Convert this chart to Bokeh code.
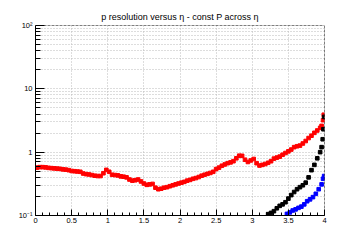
from bokeh.plotting import figure
from bokeh.models import Range1d, FixedTicker, Span
from bokeh.embed import file_html
from bokeh.resources import INLINE

# ---- data ----
red_x = [0.02, 0.06, 0.10, 0.14, 0.18, 0.22, 0.26, 0.30, 0.34, 0.38,
         0.42, 0.46, 0.50, 0.54, 0.58, 0.62, 0.66, 0.70, 0.74, 0.78,
         0.82, 0.86, 0.90, 0.94, 0.98, 1.02, 1.06, 1.10, 1.14, 1.18,
         1.22, 1.26, 1.30, 1.34, 1.38, 1.42, 1.46, 1.50, 1.54, 1.58,
         1.62, 1.66, 1.70, 1.74, 1.78, 1.82, 1.86, 1.90, 1.94, 1.98,
         2.02, 2.06, 2.10, 2.14, 2.18, 2.22, 2.26, 2.30, 2.34, 2.38,
         2.42, 2.46, 2.50, 2.54, 2.58, 2.62, 2.66, 2.70, 2.74, 2.78,
         2.82, 2.86, 2.90, 2.94, 2.98, 3.02, 3.06, 3.10, 3.14, 3.18,
         3.22, 3.26, 3.30, 3.34, 3.38, 3.42, 3.46, 3.50, 3.54, 3.58,
         3.62, 3.66, 3.70, 3.74, 3.78, 3.82, 3.86, 3.90, 3.94, 3.96,
         3.98, 3.99]
red_y = [0.57, 0.58, 0.58, 0.575, 0.565, 0.56, 0.555, 0.55, 0.545, 0.535,
         0.53, 0.52, 0.505, 0.50, 0.495, 0.49, 0.46, 0.45, 0.445, 0.435,
         0.425, 0.42, 0.42, 0.465, 0.525, 0.49, 0.44, 0.435, 0.43, 0.415,
         0.41, 0.40, 0.37, 0.355, 0.36, 0.37, 0.345, 0.32, 0.305, 0.31,
         0.315, 0.275, 0.26, 0.265, 0.275, 0.28, 0.29, 0.30, 0.31, 0.32,
         0.33, 0.34, 0.355, 0.365, 0.38, 0.39, 0.405, 0.425, 0.44, 0.455,
         0.47, 0.49, 0.54, 0.57, 0.61, 0.64, 0.67, 0.69, 0.72, 0.80,
         0.88, 0.875, 0.76, 0.70, 0.74, 0.78, 0.67, 0.615, 0.63, 0.65,
         0.68, 0.72, 0.79, 0.82, 0.85, 0.91, 0.97, 1.03, 1.10, 1.20,
         1.24, 1.27, 1.37, 1.50, 1.67, 1.82, 2.02, 2.20, 2.42, 2.60,
         3.2, 3.9]

black_x = [3.22, 3.26, 3.30, 3.34, 3.38, 3.42, 3.46, 3.50, 3.54, 3.58,
           3.62, 3.66, 3.70, 3.74, 3.78, 3.82, 3.86, 3.90, 3.94, 3.96,
           3.975, 3.985, 3.995]
black_y = [0.105, 0.11, 0.117, 0.13, 0.142, 0.15, 0.162, 0.185, 0.21, 0.235,
           0.26, 0.28, 0.30, 0.33, 0.40, 0.52, 0.63, 0.80, 1.0, 1.2,
           1.6, 2.3, 3.6]

blue_x = [3.48, 3.52, 3.56, 3.60, 3.64, 3.68, 3.72, 3.76, 3.80, 3.84,
          3.88, 3.92, 3.96, 3.98, 3.995]
blue_y = [0.106, 0.112, 0.12, 0.125, 0.132, 0.138, 0.15, 0.168, 0.18, 0.195,
          0.22, 0.26, 0.31, 0.38, 0.42]

x_ticks = [0, 0.5, 1, 1.5, 2, 2.5, 3, 3.5, 4]
x_labels = ["0", "0.5", "1", "1.5", "2", "2.5", "3", "3.5", "4"]
y_ticks = [0.1, 1, 10, 100]
y_labels = ["10\u207b\u00b9", "1", "10", "10\u00b2"]
title_text = "p resolution versus \u03b7 - const P across \u03b7"

# ---- figure ----
FONT = "Liberation Sans"
p = figure(width=360, height=240, output_backend="svg", toolbar_location=None,
           y_axis_type="log", x_range=Range1d(0, 4), y_range=Range1d(0.1, 100),
           title=title_text)
p.frame_width = 289
p.frame_height = 190
p.min_border_left = 35
p.min_border_right = 36
p.min_border_top = 25
p.min_border_bottom = 25
p.outline_line_color = None
p.background_fill_color = "white"
p.border_fill_color = "white"

p.title.align = "center"
p.title.text_font = FONT
p.title.text_font_size = "9px"
p.title.text_font_style = "normal"
p.title.text_color = "black"
p.title.offset = 0
p.title.standoff = 8

x_minor = [round(i * 0.1, 2) for i in range(41)]
y_minor = []
for dec in [0.1, 1, 10]:
    for k in range(2, 10):
        y_minor.append(round(dec * k, 3))

xa = p.xaxis[0]
xa.ticker = FixedTicker(ticks=x_ticks, minor_ticks=x_minor)
xa.major_label_overrides = {float(t): l for t, l in zip(x_ticks, x_labels)}
ya = p.yaxis[0]
ya.ticker = FixedTicker(ticks=y_ticks, minor_ticks=y_minor)
ya.major_label_overrides = {float(t): l for t, l in zip(y_ticks, y_labels)}

for ax, maj, mnr in [(xa, 6, 3), (ya, 9, 5)]:
    ax.major_tick_in = maj
    ax.major_tick_out = 0
    ax.minor_tick_in = mnr
    ax.minor_tick_out = 0
    ax.axis_line_color = "black"
    ax.major_tick_line_color = "black"
    ax.minor_tick_line_color = "black"
    ax.major_label_text_font = FONT
    ax.major_label_text_font_size = "7.5px"
    ax.major_label_text_color = "black"
xa.major_label_standoff = 2
ya.major_label_standoff = 3

p.xgrid.ticker = FixedTicker(ticks=x_ticks)
p.ygrid.ticker = FixedTicker(ticks=y_ticks + y_minor)
for g in (p.xgrid[0], p.ygrid[0]):
    g.grid_line_color = "#bbbbbb"
    g.grid_line_dash = "1 2"
    g.grid_line_width = 1

# dashed frame top and right
p.add_layout(Span(location=100, dimension="width", line_color="black",
                  line_dash="3 1", line_width=1))
p.add_layout(Span(location=4, dimension="height", line_color="black",
                  line_dash="3 1", line_width=1))

for xs, ys, c in [(red_x, red_y, "#ff0000"), (black_x, black_y, "black"),
                  (blue_x, blue_y, "#0000ff")]:
    p.scatter(xs, ys, marker="square", size=3.6, fill_color=c, line_color=c)

open("out.html", "w").write(file_html(p, INLINE))
